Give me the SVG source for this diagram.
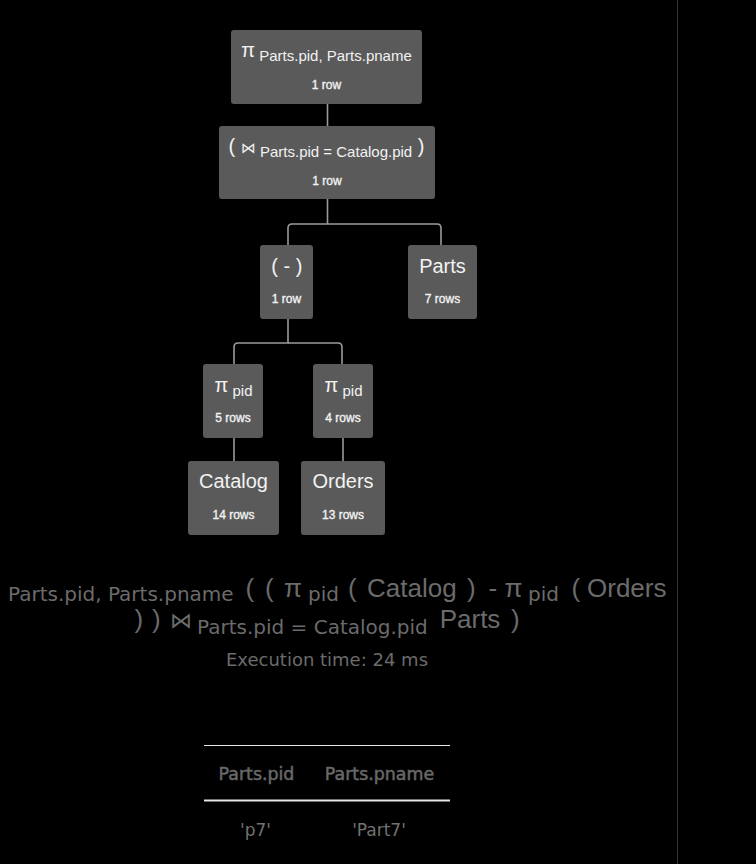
<svg xmlns="http://www.w3.org/2000/svg" width="756" height="864" viewBox="0 0 756 864">
<style>
.bg{fill:#000}
.node rect{fill:#5a5a5a}
.main{font-family:"Liberation Sans","DejaVu Sans",sans-serif;font-size:20px;fill:#f2f2f2;text-anchor:middle}
.sub{font-size:15px}
.bow{font-family:"DejaVu Sans",sans-serif;font-size:15px}
.cnt{font-family:"Liberation Sans",sans-serif;font-size:12px;fill:#f2f2f2;stroke:#f2f2f2;stroke-width:0.35;text-anchor:middle}
.conn path{fill:none;stroke:#9a9a9a;stroke-width:1.6}
.em{font-family:"Liberation Sans","DejaVu Sans",sans-serif;font-size:26px;fill:#6b6b6b}
.es{font-family:"DejaVu Sans",sans-serif;font-size:20px;fill:#6b6b6b}
.ej{font-family:"DejaVu Sans",sans-serif;font-size:22px;fill:#6b6b6b}
.exec{font-family:"DejaVu Sans",sans-serif;font-size:18px;fill:#6b6b6b;text-anchor:middle}
.th{font-family:"DejaVu Sans",sans-serif;font-size:17.4px;fill:#686868;stroke:#686868;stroke-width:0.5;text-anchor:middle}
.td{font-family:"DejaVu Sans",sans-serif;font-size:17px;fill:#727272;text-anchor:middle}
</style>
<rect class="bg" x="0" y="0" width="756" height="864"/>
<line x1="677.5" y1="0" x2="677.5" y2="864" stroke="#363636" stroke-width="1"/>

<g id="connectors" class="conn">
<path d="M327.5,104 V126"/>
<path d="M327.5,199 V224 H292 Q288,224 288,228 V245"/>
<path d="M327.5,224 H437 Q441,224 441,228 V245"/>
<path d="M288,319 V343 H238 Q234,343 234,347 V364"/>
<path d="M288,343 H338 Q342,343 342,347 V364"/>
<path d="M234,438 V461"/>
<path d="M343,438 V461"/>
</g>

<g id="node-project" class="node">
<rect x="231" y="30" width="191" height="74" rx="3"/>
<text class="main" x="326.5" y="57">π<tspan class="sub" dy="4"> Parts.pid, Parts.pname</tspan></text>
<text class="cnt" x="326.5" y="88.5">1 row</text>
</g>

<g id="node-join" class="node">
<rect x="219" y="126" width="216" height="73" rx="3"/>
<text class="main" x="326.5" y="153">( <tspan class="bow">⋈</tspan><tspan class="sub" dy="4"> Parts.pid = Catalog.pid</tspan><tspan dy="-4"> )</tspan></text>
<text class="cnt" x="327" y="184.5">1 row</text>
</g>

<g id="node-minus" class="node">
<rect x="260" y="245" width="53" height="74" rx="3"/>
<text class="main" x="286.8" y="272.5">( - )</text>
<text class="cnt" x="286.5" y="303">1 row</text>
</g>

<g id="node-parts" class="node">
<rect x="408" y="245" width="69" height="74" rx="3"/>
<text class="main" x="442.5" y="272.5">Parts</text>
<text class="cnt" x="442.5" y="303">7 rows</text>
</g>

<g id="node-pi-left" class="node">
<rect x="203" y="364" width="60" height="74" rx="3"/>
<text class="main" x="233.5" y="392">π<tspan class="sub" dy="4"> pid</tspan></text>
<text class="cnt" x="233" y="422">5 rows</text>
</g>

<g id="node-pi-right" class="node">
<rect x="313" y="364" width="60" height="74" rx="3"/>
<text class="main" x="343.5" y="392">π<tspan class="sub" dy="4"> pid</tspan></text>
<text class="cnt" x="343" y="422">4 rows</text>
</g>

<g id="node-catalog" class="node">
<rect x="188" y="461" width="91" height="74" rx="3"/>
<text class="main" x="233.5" y="488">Catalog</text>
<text class="cnt" x="233.5" y="519">14 rows</text>
</g>

<g id="node-orders" class="node">
<rect x="301" y="461" width="84" height="74" rx="3"/>
<text class="main" x="343" y="488">Orders</text>
<text class="cnt" x="343" y="519">13 rows</text>
</g>

<g id="expression">
<text class="es" x="8" y="600.5">Parts.pid, Parts.pname</text>
<text class="em" x="245.5" y="596.5">(</text>
<text class="em" x="265" y="596.5">(</text>
<text class="em" x="284" y="596.5">π</text>
<text class="es" x="308" y="600.5">pid</text>
<text class="em" x="348" y="596.5">(</text>
<text class="em" x="367" y="596.5">Catalog</text>
<text class="em" x="467" y="596.5">)</text>
<text class="em" x="488.5" y="596.5">-</text>
<text class="em" x="504.5" y="596.5">π</text>
<text class="es" x="528" y="600.5">pid</text>
<text class="em" x="571.5" y="596.5">(</text>
<text class="em" x="587" y="596.5">Orders</text>
<text class="em" x="134.5" y="627.5">)</text>
<text class="em" x="152" y="627.5">)</text>
<text class="ej" x="170" y="627.5">⋈</text>
<text class="es" x="197" y="633.5">Parts.pid = Catalog.pid</text>
<text class="em" x="439.7" y="627.5">Parts</text>
<text class="em" x="511" y="627.5">)</text>
<text class="exec" x="327" y="666">Execution time: 24 ms</text>
</g>

<g id="result-table">
<line x1="204" y1="745.5" x2="450" y2="745.5" stroke="#e6e6e6" stroke-width="1"/>
<text class="th" x="256.5" y="780">Parts.pid</text>
<text class="th" x="379.5" y="780">Parts.pname</text>
<line x1="204" y1="800.5" x2="450" y2="800.5" stroke="#e6e6e6" stroke-width="2"/>
<text class="td" x="255.5" y="836">'p7'</text>
<text class="td" x="379" y="836">'Part7'</text>
</g>
</svg>
